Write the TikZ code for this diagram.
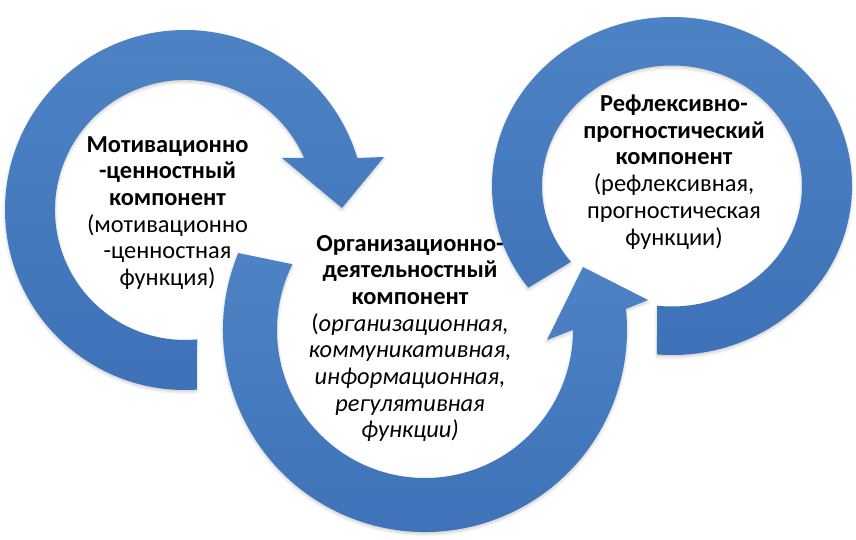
\documentclass[tikz,border=0pt]{standalone}
\usepackage{fontspec}
\setmainfont{Carlito}
\usetikzlibrary{calc,shadows.blur}
\definecolor{ringtop}{RGB}{77,131,197}
\definecolor{ringbot}{RGB}{62,113,183}
\begin{document}
\begin{tikzpicture}[x=1pt,y=1pt,
  ring/.style={top color=ringtop, bottom color=ringbot, draw=none,
    blur shadow={shadow xshift=0pt, shadow yshift=-2pt, shadow blur radius=3pt, shadow opacity=20}},
  lbl/.style={align=center, font=\fontsize{24.4}{26.7}\selectfont, inner sep=0pt}]
\useasboundingbox (0,0) rectangle (856,539);
\coordinate (c1) at (185,329);
\coordinate (c2) at (425,209);
\coordinate (c3) at (672,353);
% arrowhead points
\coordinate (h1a) at (384,382);
\coordinate (h1t) at (342,331);
\coordinate (h1b) at (282,381);
\coordinate (h2a) at (648,239);
\coordinate (h2t) at (583,272);
\coordinate (h2b) at (547,199);
% ring 3 (right)
\path[ring] ($(c3)+(-94.8:180 and 169)$) arc[start angle=-94.8, end angle=217, x radius=180, y radius=169]
  -- ($(c3)+(219:130 and 120.5)$) arc[start angle=219, end angle=-96.6, x radius=130, y radius=120.5] -- cycle;
% ring 2 (middle)
\path[ring] ($(c2)+(157.6:202)$) arc[start angle=157.6, end angle=366, radius=202]
  -- (h2a) -- (h2t) -- (h2b)
  -- ($(c2)+(360.1:148)$) arc[start angle=360.1, end angle=153.6, radius=148] -- cycle;
% ring 1 (left)
\path[ring] ($(c1)+(-86.2:180)$) arc[start angle=-86.2, end angle=-343.2, radius=180]
  -- (h1a) -- (h1t) -- (h1b)
  -- ($(c1)+(-336.4:130)$) arc[start angle=-336.4, end angle=-84.7, radius=130] -- cycle;
% texts
\node[lbl] (t1) at (167.5,326) {\textbf{Мотивационно}\\\textbf{-ценностный}\\\textbf{компонент}\\(мотивационно\\-ценностная\\функция)};
\node[lbl] (t2) at (410,200.5) {\textbf{Организационно-}\\\textbf{деятельностный}\\\textbf{компонент}\\(\textit{организационная,}\\\textit{коммуникативная,}\\\textit{информационная,}\\\textit{регулятивная}\\\textit{функции)}};
\node[lbl] (t3) at (674,367) {\textbf{Рефлексивно-}\\\textbf{прогностический}\\\textbf{компонент}\\(рефлексивная,\\прогностическая\\функции)};
\end{tikzpicture}
\end{document}
